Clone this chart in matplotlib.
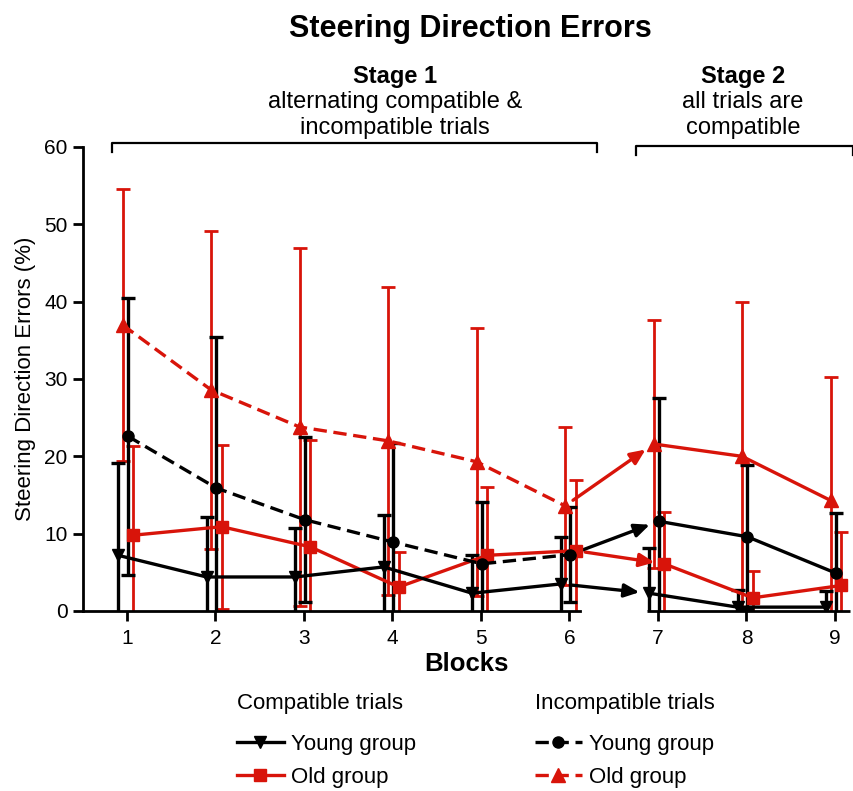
import matplotlib
matplotlib.use('Agg')
import matplotlib.pyplot as plt
from matplotlib.lines import Line2D
from matplotlib.transforms import blended_transform_factory
import numpy as np

plt.rcParams['font.family'] = ['Liberation Sans', 'DejaVu Sans']

# blocks 1-6 = stage 1, 7-9 = stage 2
blocks = np.array([1, 2, 3, 4, 5, 6, 7, 8, 9])
tick_labels = ['1', '2', '3', '4', '5', '6', '7', '8', '9']

# compatible trials
comp_young = [7.2, 4.4, 4.4, 5.7, 2.3, 3.5, 2.3, 0.5, 0.5]
comp_young_sd = [11.9, 7.8, 6.3, 6.7, 4.9, 6.1, 5.8, 2.2, 2.1]
comp_old = [9.8, 10.9, 8.3, 3.1, 7.2, 7.8, 6.1, 1.7, 3.3]
comp_old_sd = [11.6, 10.6, 13.8, 4.5, 8.8, 9.2, 6.7, 3.5, 6.9]

# incompatible trials
incomp_young = [22.6, 15.9, 11.8, 8.9, 6.1, 7.3, 11.6, 9.6, 4.9]
incomp_young_sd = [17.9, 19.5, 10.7, 12.8, 8.0, 6.2, 15.9, 9.3, 7.8]
incomp_old = [37.0, 28.6, 23.8, 22.0, 19.3, 13.6, 21.6, 20.0, 14.3]
incomp_old_sd = [17.6, 20.6, 23.2, 19.9, 17.3, 10.2, 16.0, 20.0, 16.0]

RED = '#d8140a'
BLACK = '#000000'

W, H = 854, 791
fig = plt.figure(figsize=(W / 100, H / 100), dpi=100)
ax = fig.add_axes([83 / W, 180 / H, 767 / W, 464 / H])

# (values, sd, colour, marker, markersize, dodge, stage-1 linestyle, label)
series = [
    (comp_old, comp_old_sd, RED, 's', 9, 0.07, '-', 'Old group'),
    (incomp_old, incomp_old_sd, RED, '^', 10, -0.05, (0, (4, 2)), 'Old group'),
    (comp_young, comp_young_sd, BLACK, 'v', 8, -0.10, '-', 'Young group'),
    (incomp_young, incomp_young_sd, BLACK, 'o', 8, 0.01, (0, (4, 2)), 'Young group'),
]

handles = []
for vals, sd, col, mk, ms, dx, ls, lab in series:
    x = blocks + dx
    v = np.array(vals)
    ew = 2.4 if col == BLACK else 2.0
    ax.errorbar(x, v, yerr=sd, fmt='none', ecolor=col, elinewidth=ew,
                capsize=5, capthick=ew, zorder=2 if col == RED else 3)
    # stage 1
    h, = ax.plot(x[:6], v[:6], color=col, lw=2.4, ls=ls, marker=mk, ms=ms,
                 zorder=5, label=lab)
    # stage 2: all lines solid
    ax.plot(x[6:], v[6:], color=col, lw=2.4, ls='-', marker=mk, ms=ms, zorder=5)
    # arrow between the stages
    ax.annotate('', xy=(x[6], v[6]), xytext=(x[5], v[5]),
                arrowprops=dict(arrowstyle='-|>,head_length=0.9,head_width=0.4',
                                color=col, lw=2.4, shrinkA=7, shrinkB=7),
                zorder=4)
    handles.append(h)

ax.set_xlim(0.503, 9.17)
ax.set_ylim(0, 60)
ax.set_yticks(range(0, 61, 10))
ax.set_xticks(blocks)
ax.set_xticklabels(tick_labels)
ax.tick_params(axis='both', direction='out', length=7, width=2, labelsize=15, pad=4)
ax.tick_params(axis='x', pad=6)
for s in ('top', 'right'):
    ax.spines[s].set_visible(False)
ax.spines['left'].set_linewidth(2)
ax.spines['bottom'].set_linewidth(2)
ax.spines['bottom'].set_bounds(0.503, 6.12)
# right piece of the broken x axis
trans = blended_transform_factory(ax.transData, ax.transAxes)
ax.add_line(Line2D([6.88, 9.17], [0, 0], transform=trans, color='black', lw=2,
                   clip_on=False, zorder=6, solid_capstyle='butt'))

ax.set_xlabel('Blocks', fontsize=18.5, fontweight='bold', labelpad=3)
ax.set_ylabel('Steering Direction Errors (%)', fontsize=16, labelpad=6)

# title and stage annotations
fig.text(470 / W, 1 - 29 / H, 'Steering Direction Errors', ha='center', va='center',
         fontsize=22, fontweight='bold')
fig.text(395 / W, 1 - 77 / H, 'Stage 1', ha='center', va='center', fontsize=17,
         fontweight='bold')
fig.text(395 / W, 1 - 115 / H, 'alternating compatible &\nincompatible trials',
         ha='center', va='center', fontsize=17, linespacing=1.22)
fig.text(743 / W, 1 - 77 / H, 'Stage 2', ha='center', va='center', fontsize=17,
         fontweight='bold')
fig.text(743 / W, 1 - 115 / H, 'all trials are\ncompatible',
         ha='center', va='center', fontsize=17, linespacing=1.22)

# brackets
def bracket(x0, x1, y, drop):
    xs = [x0 / W, x0 / W, x1 / W, x1 / W]
    ys = [1 - (y + drop) / H, 1 - y / H, 1 - y / H, 1 - (y + drop) / H]
    fig.add_artist(Line2D(xs, ys, transform=fig.transFigure, color='black', lw=1.6))

bracket(112, 597, 143, 9)
bracket(636, 853, 146, 9)

# legends
fig.text(237 / W, 1 - 703 / H, 'Compatible trials', ha='left', va='center', fontsize=16)
fig.text(535 / W, 1 - 703 / H, 'Incompatible trials', ha='left', va='center', fontsize=16)
leg_kw = dict(loc='upper left', frameon=False, fontsize=16,
              handlelength=2.1, handletextpad=0.35,
              labelspacing=0.55, borderpad=0, borderaxespad=0)
fig.legend(handles=[handles[2], handles[0]], labels=['Young group', 'Old group'],
           bbox_to_anchor=(237 / W, 1 - 734 / H), **leg_kw)
fig.legend(handles=[handles[3], handles[1]], labels=['Young group', 'Old group'],
           bbox_to_anchor=(535 / W, 1 - 734 / H), **leg_kw)

fig.savefig('out.png', dpi=100)
